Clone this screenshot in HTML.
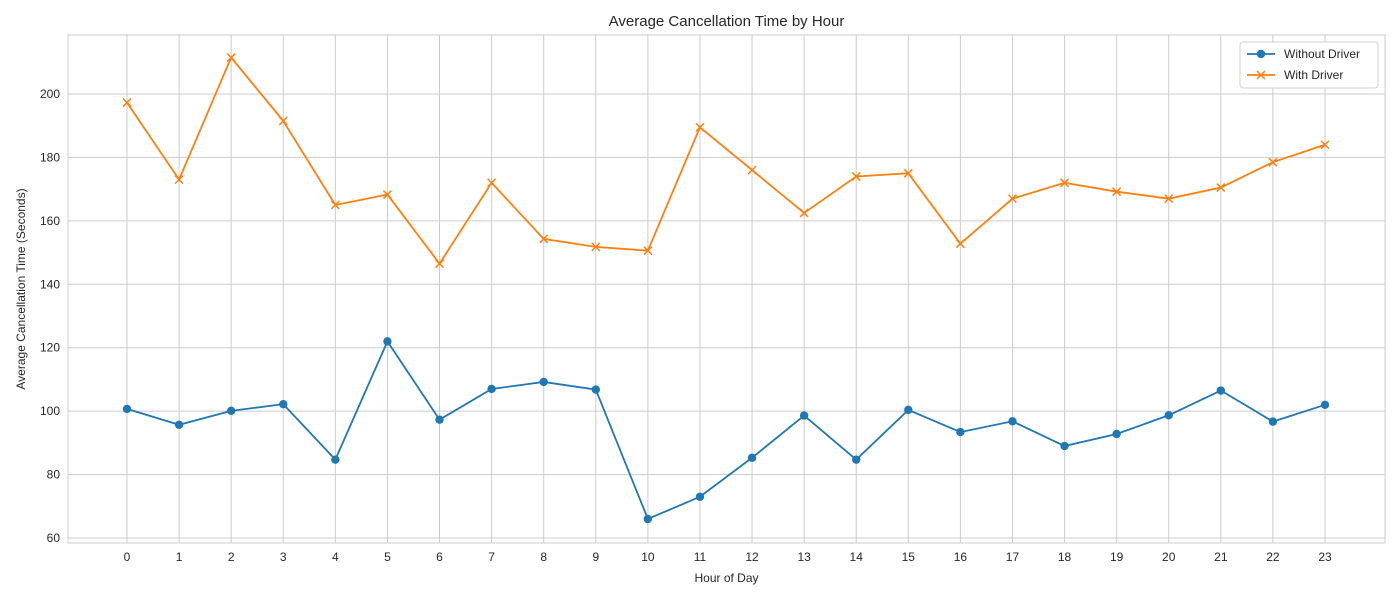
<!DOCTYPE html>
<html><head><meta charset="utf-8">
<style>
body{margin:0;background:#fff;font-family:"Liberation Sans",sans-serif;}
svg text{font-family:"Liberation Sans",sans-serif;fill:#262626;}
</style></head>
<body>
<svg id="chart" width="1400" height="600" xmlns="http://www.w3.org/2000/svg"></svg>
<script>
const hours=[0,1,2,3,4,5,6,7,8,9,10,11,12,13,14,15,16,17,18,19,20,21,22,23];
const withDriver=[197.3,173,211.5,191.5,165,168.3,146.5,172,154.3,151.8,150.6,189.5,176,162.5,174,175,152.8,167,172,169.2,167,170.5,178.5,184];
const withoutDriver=[100.7,95.7,100.1,102.2,84.7,122,97.3,107,109.2,106.8,66,73,85.3,98.6,84.7,100.4,93.4,96.8,89,92.8,98.7,106.5,96.7,102];
const yTicks=[60,80,100,120,140,160,180,200];

const L=68,R=1385,T=35,B=543;
const xMin=-1.15,xMax=24.15,yMin=58.4,yMax=218.6;
const x=v=>127+(v-0)*(1325-127)/23;
const y=v=>538-(v-60)*(444/140);
const svg=document.getElementById('chart');
const NS='http://www.w3.org/2000/svg';
function mk(tag,attrs,parent){const e=document.createElementNS(NS,tag);for(const k in attrs)e.setAttribute(k,attrs[k]);(parent||svg).appendChild(e);return e;}

const grid=mk('g',{});


hours.forEach(h=>{mk('line',{x1:x(h),x2:x(h),y1:T,y2:B,stroke:'#cccccc','stroke-width':1},grid);
 const t=mk('text',{x:x(h),y:B+18,'text-anchor':'middle','font-size':12});t.textContent=h;
 
 });
yTicks.forEach(v=>{mk('line',{x1:L,x2:R,y1:y(v),y2:y(v),stroke:'#cccccc','stroke-width':1},grid);
 const t=mk('text',{x:L-8,y:y(v)+4,'text-anchor':'end','font-size':12});t.textContent=v;
 
 });
const frame=mk('rect',{x:L,y:T,width:R-L,height:B-T,fill:'none',stroke:'#cccccc','stroke-width':1});



function series(vals,color,marker,name){
 const g=mk('g',{});
 
 
 mk('polyline',{points:vals.map((v,i)=>x(hours[i])+','+y(v)).join(' '),fill:'none',stroke:color,'stroke-width':1.8},g);
 vals.forEach((v,i)=>{
  if(marker==='o')mk('circle',{cx:x(hours[i]),cy:y(v),r:4.2,fill:color},g);
  else{const cx=x(hours[i]),cy=y(v),d=4;
   mk('path',{d:`M${cx-d},${cy-d}L${cx+d},${cy+d}M${cx-d},${cy+d}L${cx+d},${cy-d}`,stroke:color,'stroke-width':1.5},g);}
 });
}
series(withoutDriver,'#1f77b4','o','series-without-driver');
series(withDriver,'#ff7f0e','x','series-with-driver');

const title=mk('text',{x:(L+R)/2,y:26,'text-anchor':'middle','font-size':15});title.textContent='Average Cancellation Time by Hour';


const xt=mk('text',{x:(L+R)/2,y:582,'text-anchor':'middle','font-size':12});xt.textContent='Hour of Day';


const yt=mk('text',{x:0,y:0,'text-anchor':'middle','font-size':12,transform:`translate(25,${(T+B)/2}) rotate(-90)`});yt.textContent='Average Cancellation Time (Seconds)';



const lg=mk('g',{});


mk('rect',{x:1240,y:42,width:138,height:46,rx:3,fill:'#fff',stroke:'#d0d0d0'},lg);
mk('line',{x1:1247,x2:1275,y1:54,y2:54,stroke:'#1f77b4','stroke-width':1.8},lg);
mk('circle',{cx:1261,cy:54,r:4.2,fill:'#1f77b4'},lg);
const t1=mk('text',{x:1284,y:58,'font-size':12},lg);t1.textContent='Without Driver';


mk('line',{x1:1247,x2:1275,y1:75,y2:75,stroke:'#ff7f0e','stroke-width':1.8},lg);
mk('path',{d:'M1257,71L1265,79M1257,79L1265,71',stroke:'#ff7f0e','stroke-width':1.5},lg);
const t2=mk('text',{x:1284,y:79,'font-size':12},lg);t2.textContent='With Driver';


</script>
</body></html>
